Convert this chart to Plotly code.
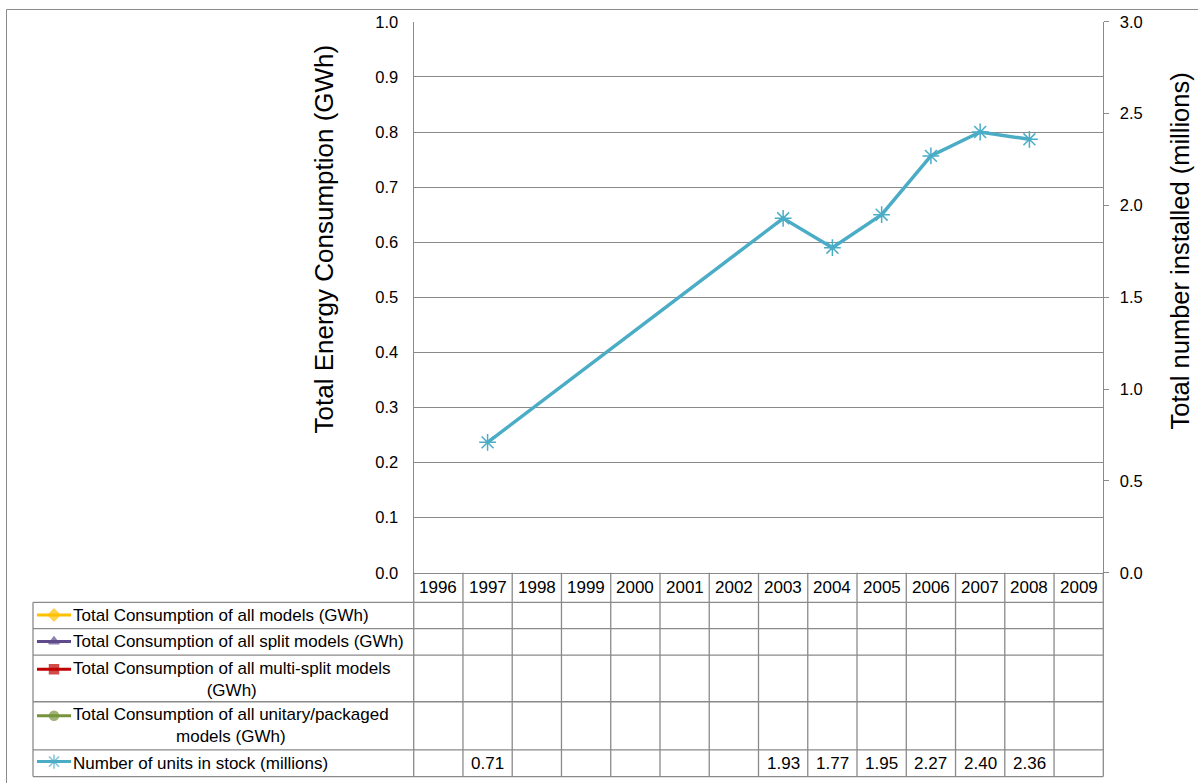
import plotly.graph_objects as go

# ---------------- data ----------------
years = [1996, 1997, 1998, 1999, 2000, 2001, 2002, 2003, 2004, 2005, 2006, 2007, 2008, 2009]
total_all = [None] * 14
total_split = [None] * 14
total_multisplit = [None] * 14
total_unitary = [None] * 14
units_stock = [None, 0.71, None, None, None, None, None, 1.93, 1.77, 1.95, 2.27, 2.40, 2.36, None]

series_names = [
    "Total Consumption of all models (GWh)",
    "Total Consumption of all split models (GWh)",
    "Total Consumption of all multi-split models<br>(GWh)",
    "Total Consumption of all unitary/packaged<br>models (GWh)",
    "Number of units in stock (millions)",
]
left_ticks = [0.0, 0.1, 0.2, 0.3, 0.4, 0.5, 0.6, 0.7, 0.8, 0.9, 1.0]
right_ticks = [0.0, 0.5, 1.0, 1.5, 2.0, 2.5, 3.0]

# ---------------- layout constants (target page pixels) ----------------
W, H = 1198, 783
PX0, PX1 = 413.7, 1103.3
PY_TOP, PY_BOT = 20.7, 573.3
TABLE_LEFT = 33
ROW_LINES = [603, 629.3, 656, 702.7, 751, 777.7]
ROW_TEXT_Y = [616, 642.5, 680, 727, 764.5]
ROW_KEY_Y = [615.7, 642.3, 670, 716.7, 762.7]
HEADER_Y = 588
GRID = "#8A8A8A"
FONT = "Arial, Liberation Sans, sans-serif"

colors = ["#FFC000", "#5F4B8B", "#C00000", "#77933C", "#4BACC6"]
symbols = ["diamond", "triangle-up", "square", "circle", "asterisk-open"]

# page offset compensation (vertical)
def fy(y):
    return max(0.5, y * 799.0 / 783.0 - 8.0)


def px(x):
    return x / W


def py(y):
    return 1 - fy(y) / H


fig = go.Figure()

# consumption series (no data) on left axis
for name, vals, c, s in zip(series_names[:4], [total_all, total_split, total_multisplit, total_unitary], colors[:4], symbols[:4]):
    fig.add_trace(go.Scatter(x=years, y=vals, mode="lines+markers", name=name,
                             line=dict(color=c, width=3), marker=dict(symbol=s, color=c),
                             xaxis="x", yaxis="y", showlegend=False))

# units in stock on right axis
fig.add_trace(go.Scatter(x=years, y=units_stock, mode="lines+markers", connectgaps=True,
                         name=series_names[4],
                         line=dict(color=colors[4], width=3.5),
                         marker=dict(symbol="asterisk-open", size=14, color=colors[4],
                                     line=dict(color=colors[4], width=1.5)),
                         xaxis="x", yaxis="y2", showlegend=False, cliponaxis=False))

# legend keys in table (pixel overlay axis)
for i in range(5):
    yk = fy(ROW_KEY_Y[i])
    msize = 12 if symbols[i] == "asterisk-open" else 9
    fig.add_trace(go.Scatter(x=[37, 54, 71], y=[yk, yk, yk], mode="lines+markers",
                             line=dict(color=colors[i], width=3),
                             marker=dict(symbol=symbols[i], size=[0, msize, 0], color=colors[i],
                                         line=dict(color=colors[i], width=1.5)),
                             xaxis="x3", yaxis="y3", showlegend=False, hoverinfo="skip",
                             cliponaxis=False))

shapes = []
# outer chart border
shapes.append(dict(type="rect", xref="paper", yref="paper", x0=px(6.5), x1=1.05, y0=1 - 0.5 / H, y1=-0.05,
                   line=dict(color=GRID, width=1)))
# table horizontal lines
for yl in ROW_LINES:
    shapes.append(dict(type="line", xref="paper", yref="paper", x0=px(TABLE_LEFT), x1=px(PX1),
                       y0=py(yl), y1=py(yl), line=dict(color=GRID, width=1.3)))
# table left border
shapes.append(dict(type="line", xref="paper", yref="paper", x0=px(TABLE_LEFT), x1=px(TABLE_LEFT),
                   y0=py(ROW_LINES[0]), y1=py(ROW_LINES[-1]), line=dict(color=GRID, width=1.3)))
# outer table column borders
for xd in [0, 1]:
    shapes.append(dict(type="line", xref="x domain", yref="paper", x0=xd, x1=xd,
                       y0=py(PY_BOT), y1=py(ROW_LINES[-1]), line=dict(color=GRID, width=1.3)))
# inner column boundaries
for yr in years[1:]:
    shapes.append(dict(type="line", xref="x", yref="paper", x0=yr - 0.5, x1=yr - 0.5,
                       y0=py(PY_BOT), y1=py(ROW_LINES[-1]), line=dict(color=GRID, width=1.3)))

annotations = []
tfont = dict(family=FONT, size=17, color="#000000")
for yr in years:
    annotations.append(dict(x=yr, xref="x", y=py(HEADER_Y), yref="paper", text=str(yr),
                            showarrow=False, font=tfont, xanchor="center", yanchor="middle"))
for yr, v in zip(years, units_stock):
    if v is not None:
        annotations.append(dict(x=yr, xref="x", y=py(ROW_TEXT_Y[4]), yref="paper", text=f"{v:.2f}",
                                showarrow=False, font=tfont, xanchor="center", yanchor="middle"))
for i, name in enumerate(series_names):
    annotations.append(dict(x=px(71), xref="paper", y=py(ROW_TEXT_Y[i]), yref="paper", text=name,
                            showarrow=False, font=tfont, xanchor="left", yanchor="middle", align="center"))
# axis titles
annotations.append(dict(x=px(324), y=py(238), xref="paper", yref="paper",
                        text="Total Energy Consumption (GWh)", textangle=-90, showarrow=False,
                        font=dict(family=FONT, size=26, color="#000000"),
                        xanchor="center", yanchor="middle"))
annotations.append(dict(x=px(1196), y=py(251), xref="paper", yref="paper",
                        text="Total number installed (millions)", textangle=-90, showarrow=False,
                        font=dict(family=FONT, size=25.5, color="#000000"),
                        xanchor="right", yanchor="middle"))

fig.update_layout(
    width=W, height=H,
    margin=dict(l=0, r=0, t=0, b=0),
    paper_bgcolor="#FFFFFF",
    plot_bgcolor="rgba(0,0,0,0)",
    font=dict(family=FONT, size=16, color="#000000"),
    showlegend=False,
    xaxis=dict(domain=[px(PX0), px(PX1)], range=[1995.5, 2009.5], showticklabels=False,
               showgrid=False, zeroline=False, showline=True, linecolor=GRID, linewidth=1.3,
               ticks="", anchor="y", fixedrange=True),
    yaxis=dict(domain=[py(PY_BOT), py(PY_TOP)], range=[0, 1], tickvals=left_ticks,
               tickformat=".1f", showgrid=True, gridcolor=GRID, gridwidth=1.3, zeroline=False,
               showline=True, linecolor=GRID, linewidth=1.3, ticks="", ticklabelstandoff=11,
               tickfont=dict(family=FONT, size=16.5, color="#000000"), anchor="x", fixedrange=True),
    yaxis2=dict(overlaying="y", side="right", range=[0, 3], tickvals=right_ticks, tickformat=".1f",
                showgrid=False, zeroline=False, showline=True, linecolor=GRID, linewidth=1.3,
                ticks="outside", ticklen=5, tickcolor=GRID, tickwidth=1.3, ticklabelstandoff=7,
                tickfont=dict(family=FONT, size=16.5, color="#000000"), anchor="x", fixedrange=True),
    xaxis3=dict(domain=[0, 1], range=[0, W], visible=False, anchor="y3", fixedrange=True),
    yaxis3=dict(domain=[0, 1], range=[H, 0], visible=False, anchor="x3", fixedrange=True),
    shapes=shapes,
    annotations=annotations,
)

fig.write_html("out.html")
